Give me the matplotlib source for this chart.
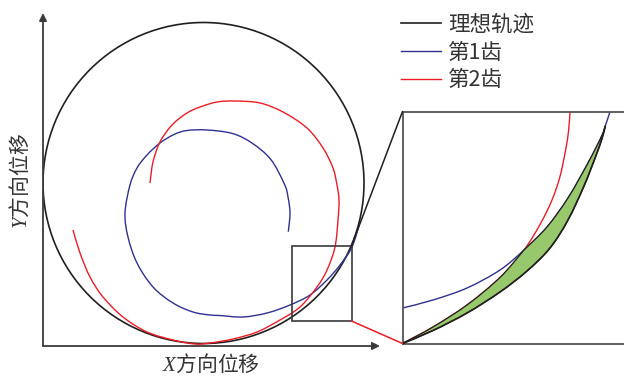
import matplotlib
matplotlib.use("Agg")
import matplotlib.pyplot as plt
import numpy as np
from matplotlib.patches import Circle, Rectangle, ConnectionPatch, PathPatch
from matplotlib.path import Path
from matplotlib.lines import Line2D

plt.rcParams['font.family'] = ['Noto Sans CJK SC', 'DejaVu Sans']
plt.rcParams['mathtext.fontset'] = 'custom'
plt.rcParams['mathtext.it'] = 'Liberation Serif:italic'
plt.rcParams['mathtext.rm'] = 'Liberation Serif'

# ---------------- data (main view) ----------------
labels = ['理想轨迹', '第1齿', '第2齿']
xlabel = '$X$方向位移'
ylabel = '$Y$方向位移'

ideal_center = (160.5, 163.0)
ideal_radius = 160.5

blue_x = [245.3, 247, 245, 241.5, 228, 209.2, 189.5, 164, 144, 131, 117, 104, 94, 87, 82,
          85, 94, 110, 130, 150, 167, 177, 200, 224, 247, 267, 284, 297, 309, 317]
blue_y = [114.3, 133, 149, 161.7, 186.3, 202.8, 212.5, 216, 215.5, 211.5, 203, 191, 178, 161, 133,
          109, 83, 59, 43, 34, 31, 30.5, 29, 33, 41, 51, 66, 81, 99, 124]

red_x = [107, 110, 117, 129, 144, 157, 174, 192, 217, 240, 264, 280, 290, 294, 296, 295,
         292, 284, 274, 257, 237, 214, 190, 167, 152, 130, 104, 80, 60, 47, 37, 30]
red_y = [163, 184, 204, 221, 233, 239, 244, 245, 243, 234, 218, 198, 178, 161, 146, 126,
         99, 76, 59, 39, 26, 14, 7, 3, 2, 6, 14, 29, 49, 69, 93, 116]

zoom_box = (249.0, 25.0, 59.5, 75.0)   # x, y, w, h in main data units

# ---------------- data (magnified view) ----------------
in_black_u = [0, 30.5, 64.5, 97.5, 124.5, 147.5, 165.5, 181.5, 193.5, 199.5, 202.8]
in_black_v = [0, 13, 30.5, 51.5, 72.5, 95.5, 123.5, 157.5, 188, 205, 217.5]
in_red_u = [0, 30.5, 64.5, 97.5, 121.5, 137.5, 149.5, 157.5, 163, 166, 167.5]
in_red_v = [0, 16.5, 38.5, 66, 93.5, 119, 143.5, 167, 193, 212, 231.5]
in_blue_u = [0, 30.5, 64.5, 97.5, 121.5, 144.5, 165.5, 185.5, 199, 202.8, 207.5]
in_blue_v = [35.5, 43.5, 55.5, 73.5, 93.5, 116.5, 145.5, 180.5, 207, 217.5, 231.8]
cross_idx = 4      # red/blue crossing point (index in red and blue lists)
merge_idx = 9      # blue meets the ideal curve (index in blue list; last black point)

C_BLACK = '#231f20'
C_BLUE = '#2e3192'
C_RED = '#ed1c24'
C_GREEN = '#97c96c'
C_AXIS = '#3a3a3a'


def bezier_parts(xs, ys):
    """Cubic Bezier pieces (Catmull-Rom handles) through the given points."""
    p = np.column_stack([xs, ys]).astype(float)
    n = len(p)
    verts, codes = [], []
    for i in range(n - 1):
        p0 = p[i - 1] if i > 0 else p[i]
        p1, p2 = p[i], p[i + 1]
        p3 = p[i + 2] if i + 2 < n else p[i + 1]
        verts += [p1 + (p2 - p0) / 6.0, p2 - (p3 - p1) / 6.0, p2]
        codes += [Path.CURVE4] * 3
    return p[0], verts, codes


def smooth_path(xs, ys):
    start, v, c = bezier_parts(xs, ys)
    return Path([start] + v, [Path.MOVETO] + c)


def smooth_line(axis, xs, ys, color, lw, z):
    axis.add_patch(PathPatch(smooth_path(xs, ys), fill=False, ec=color, lw=lw, zorder=z,
                             capstyle='butt', joinstyle='round'))


W, H = 624, 377
fig = plt.figure(figsize=(W / 100, H / 100), dpi=100)

# main axes: 1 data unit = 1 pixel
ax = fig.add_axes([43 / W, 31 / H, 357 / W, 341 / H])
ax.set_xlim(0, 357)
ax.set_ylim(0, 341)
ax.axis('off')

ax.add_patch(Circle(ideal_center, ideal_radius, fill=False, ec=C_BLACK, lw=1.2, zorder=2))
smooth_line(ax, blue_x, blue_y, C_BLUE, 1.0, 3)
smooth_line(ax, red_x, red_y, C_RED, 1.0, 3)

ax.add_patch(Rectangle(zoom_box[:2], zoom_box[2], zoom_box[3], fill=False,
                       ec=C_AXIS, lw=1.2, zorder=4))

# axis arrows
arrow_kw = dict(arrowstyle='-|>', color=C_AXIS, lw=1.3, mutation_scale=11,
                shrinkA=0, shrinkB=0)
ax.annotate('', xy=(0, 333), xytext=(0, 0), arrowprops=arrow_kw, annotation_clip=False)
ax.annotate('', xy=(337, 0), xytext=(0, 0), arrowprops=arrow_kw, annotation_clip=False)

fig.text(20 / W, 1 - 181 / H, ylabel, rotation=90, ha='center', va='center', fontsize=15,
         color='#333333')
fig.text(211 / W, 1 - 364 / H, xlabel, ha='center', va='center', fontsize=15,
         color='#333333')

# magnified view
axin = fig.add_axes([402.5 / W, 33.5 / H, 224 / W, 232 / H])
axin.set_xlim(0, 224)
axin.set_ylim(0, 232)
axin.set_xticks([])
axin.set_yticks([])
for s in axin.spines.values():
    s.set_color('#555555')
    s.set_linewidth(1.3)

smooth_line(axin, in_red_u, in_red_v, C_RED, 1.0, 2)
smooth_line(axin, in_blue_u, in_blue_v, C_BLUE, 1.0, 2)

# green region: red up to the crossing, blue up to the merge point, ideal curve back down
s0, v1, c1 = bezier_parts(in_red_u[:cross_idx + 1], in_red_v[:cross_idx + 1])
_, v2, c2 = bezier_parts(in_blue_u[cross_idx:merge_idx + 1], in_blue_v[cross_idx:merge_idx + 1])
_, v3, c3 = bezier_parts(in_black_u[::-1], in_black_v[::-1])
region = Path([s0] + v1 + v2 + v3 + [s0],
              [Path.MOVETO] + c1 + c2 + c3 + [Path.CLOSEPOLY])
axin.add_patch(PathPatch(region, fc=C_GREEN, ec=C_BLACK, lw=0.9, zorder=3, joinstyle='round'))
smooth_line(axin, in_black_u, in_black_v, C_BLACK, 1.2, 4)

# connectors
for (xa, ya), (xb, yb), col in [((zoom_box[0] + zoom_box[2], zoom_box[1] + zoom_box[3]), (0, 1), C_BLACK),
                                ((zoom_box[0] + zoom_box[2], zoom_box[1]), (0, 0), C_RED)]:
    cp = ConnectionPatch(xyA=(xa, ya), coordsA=ax.transData, xyB=(xb, yb),
                         coordsB=axin.transAxes, color=col, lw=1.1, zorder=5)
    fig.add_artist(cp)

# legend
handles = [Line2D([], [], color=C_BLACK, lw=1.2),
           Line2D([], [], color=C_BLUE, lw=1.0),
           Line2D([], [], color=C_RED, lw=1.0)]
fig.legend(handles, labels, loc='upper left',
           bbox_to_anchor=(401 / W, 1 - 14 / H), frameon=False, fontsize=15.5,
           handlelength=1.86, handletextpad=0.33, labelspacing=0.26, borderpad=0,
           borderaxespad=0, labelcolor='#333333')

fig.savefig('out.png', dpi=100)
